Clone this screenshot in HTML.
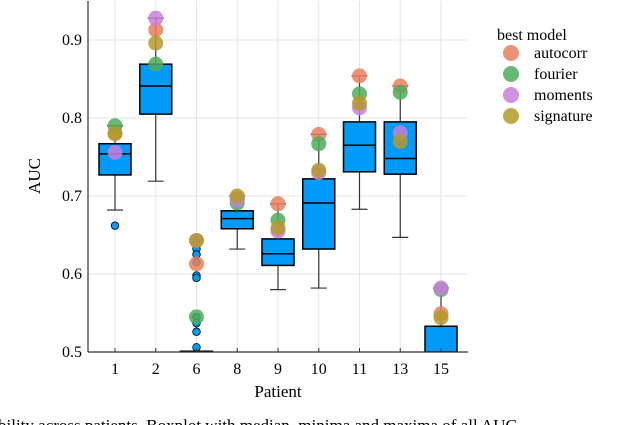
<!DOCTYPE html>
<html><head><meta charset="utf-8"><style>
html,body{margin:0;padding:0;background:#fff;width:640px;height:425px;overflow:hidden}
svg{display:block;font-family:"Liberation Serif",serif}
</style></head><body>
<svg id="chart" width="640" height="425">
<g id="grid"></g>
<g id="boxes"></g>
<g id="dots"></g>
<g id="axes"></g>
<text x="40" y="176" font-size="17" text-anchor="middle" transform="rotate(-90 40 176)">AUC</text>
<text x="278" y="397" font-size="17" text-anchor="middle">Patient</text>
<g id="legend"></g>
<text x="-2" y="431" font-size="17">bility across patients. Boxplot with median, minima and maxima of all AUC</text>
</svg>
<script>
const categories=["1","2","6","8","9","10","11","13","15"];
const q1=[0.727,0.805,0.499,0.658,0.611,0.632,0.731,0.728,0.49];
const med=[0.754,0.841,0.5,0.671,0.626,0.691,0.765,0.748,0.5];
const q3=[0.767,0.869,0.501,0.681,0.645,0.722,0.795,0.795,0.533];
const lowW=[0.682,0.719,0.5,0.632,0.580,0.582,0.683,0.647,0.49];
const highW=[0.790,0.928,0.5,0.700,0.690,0.779,0.854,0.841,0.582];
const outlierCat=[0,2,2,2,2,2,2,2,2,2,2];
const outlierVal=[0.662,0.643,0.632,0.625,0.615,0.598,0.595,0.545,0.537,0.526,0.506];
const models=["autocorr","fourier","moments","signature"];
const modelColors=["#e8805c","#4fac5b","#c77fdc","#b59a2c"];
const autocorr=[0.780,0.913,0.613,0.697,0.690,0.779,0.854,0.841,0.549];
const fourier=[0.790,0.869,0.545,0.691,0.669,0.767,0.831,0.833,0.580];
const moments=[0.756,0.928,0.643,0.695,0.655,0.730,0.813,0.781,0.582];
const signature=[0.780,0.896,0.643,0.700,0.659,0.733,0.819,0.770,0.544];
const yTicks=[0.5,0.6,0.7,0.8,0.9];
const yTickLabels=["0.5","0.6","0.7","0.8","0.9"];

const NS="http://www.w3.org/2000/svg";
const L=88,R=468,T=1,B=352;
const y=v=>B-(v-0.5)*780;
const x=i=>115+i*40.75;
function mk(tag,attrs,parent){const e=document.createElementNS(NS,tag);for(const k in attrs)e.setAttribute(k,attrs[k]);parent.appendChild(e);return e;}
const grid=document.getElementById('grid'),boxes=document.getElementById('boxes'),dots=document.getElementById('dots'),axes=document.getElementById('axes'),legend=document.getElementById('legend');
yTicks.forEach((t,i)=>{
 const g=mk('line',{x1:L,x2:R,y1:y(t),y2:y(t),stroke:'#e6e6e6','stroke-width':1},grid);
 
 
 const tx=mk('text',{x:82,y:y(t)+5,'font-size':16,'text-anchor':'end'},axes);tx.textContent=yTickLabels[i];
 
 
});
categories.forEach((c,i)=>{
 const g=mk('line',{x1:x(i),x2:x(i),y1:T,y2:B,stroke:'#e6e6e6','stroke-width':1},grid);
 
 
 const tk=mk('line',{x1:x(i),x2:x(i),y1:B,y2:B-4,stroke:'#333'},axes);
 
 
 const tx=mk('text',{x:x(i),y:374,'font-size':16,'text-anchor':'middle'},axes);tx.textContent=c;
 
 
});
const clip=mk('clipPath',{id:'pc'},document.getElementById('chart'));mk('rect',{x:L,y:T,width:R-L,height:B-T},clip);
boxes.setAttribute('clip-path','url(#pc)');
categories.forEach((c,i)=>{
 const cx=x(i),hw=16;
 const w1=mk('line',{x1:cx,x2:cx,y1:y(highW[i]),y2:y(q3[i]),stroke:'#333','stroke-width':1.2},boxes);
 
 
 const w2=mk('line',{x1:cx,x2:cx,y1:y(q1[i]),y2:y(lowW[i]),stroke:'#333','stroke-width':1.2},boxes);
 
 
 [highW[i],lowW[i]].forEach(v=>{const cap=mk('line',{x1:cx-8,x2:cx+8,y1:y(v),y2:y(v),stroke:'#333','stroke-width':1.2},boxes);
  
  });
 const b=mk('rect',{x:cx-hw,y:y(q3[i]),width:2*hw,height:Math.max(1,y(q1[i])-y(q3[i])),fill:'#009af9',stroke:'#000','stroke-width':1.5},boxes);
 
 
 const m=mk('line',{x1:cx-hw,x2:cx+hw,y1:y(med[i]),y2:y(med[i]),stroke:'#000','stroke-width':1.5},boxes);
 
 
});
outlierVal.forEach((v,k)=>{
 const o=mk('circle',{cx:x(outlierCat[k]),cy:y(v),r:3.8,fill:'#009af9',stroke:'#000','stroke-width':0.8},boxes);
 
 
});
const series=[autocorr,fourier,moments,signature];
series.forEach((s,m)=>s.forEach((v,i)=>{
 const d=mk('circle',{cx:x(i),cy:y(v),r:7.5,fill:modelColors[m],'fill-opacity':0.85},dots);
 
 
}));
mk('line',{x1:L,x2:L,y1:T,y2:B,stroke:'#333','stroke-width':1.2},axes);
mk('line',{x1:L,x2:R,y1:B,y2:B,stroke:'#333','stroke-width':1.2},axes);
const lt=mk('text',{x:497,y:40,'font-size':16},legend);lt.textContent='best model';


models.forEach((n,m)=>{
 const cy=53+m*21;
 const c=mk('circle',{cx:511,cy:cy,r:8,fill:modelColors[m],'fill-opacity':0.85},legend);
 
 
 const t=mk('text',{x:534,y:cy+5,'font-size':16},legend);t.textContent=n;
 
 
});
</script>
</body></html>
